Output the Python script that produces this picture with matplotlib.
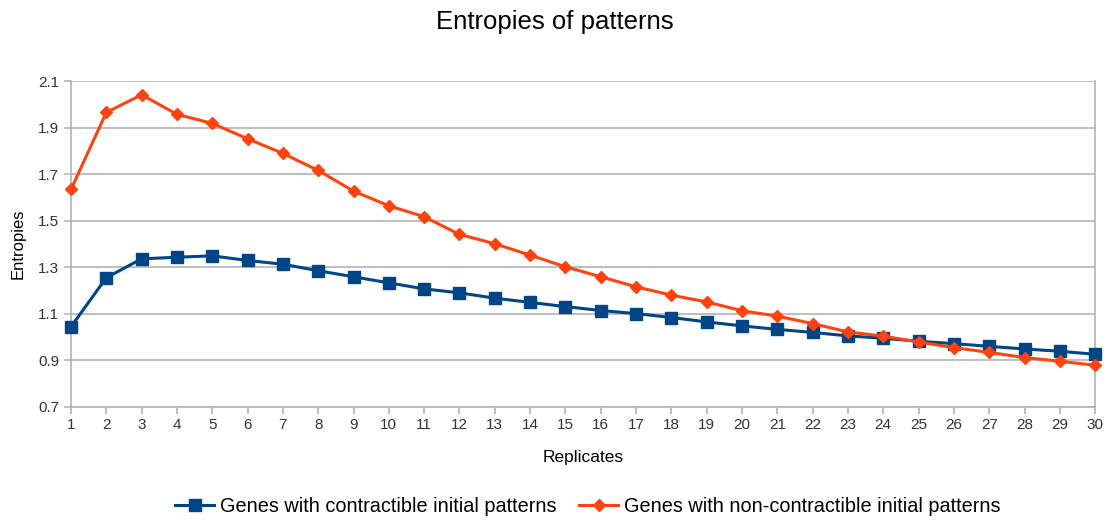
import numpy as np
import matplotlib
matplotlib.use("Agg")
import matplotlib.pyplot as plt

plt.rcParams['font.family'] = ['Liberation Sans', 'DejaVu Sans']

replicates = list(range(1, 31))
contractible = [1.044, 1.255, 1.336, 1.343, 1.349, 1.329, 1.313, 1.285, 1.259, 1.233,
                1.207, 1.190, 1.167, 1.149, 1.131, 1.114, 1.101, 1.084, 1.065, 1.048,
                1.033, 1.020, 1.005, 0.995, 0.982, 0.972, 0.960, 0.949, 0.939, 0.926]
non_contractible = [1.634, 1.965, 2.041, 1.957, 1.918, 1.852, 1.789, 1.716, 1.627, 1.564,
                    1.517, 1.441, 1.401, 1.352, 1.302, 1.259, 1.216, 1.180, 1.151, 1.113,
                    1.090, 1.058, 1.022, 1.004, 0.979, 0.955, 0.934, 0.912, 0.896, 0.879]
y_ticks = [0.7, 0.9, 1.1, 1.3, 1.5, 1.7, 1.9, 2.1]

fig = plt.figure(figsize=(11.09, 5.21), dpi=100)
ax = fig.add_axes([0.064, 0.219, 0.9235, 0.6255])

ax.plot(replicates, contractible, color='#004586', lw=2.2, marker='s', ms=8,
        label='Genes with contractible initial patterns', zorder=3, clip_on=False)
ax.plot(replicates, non_contractible, color='#ff420e', lw=2.2, marker='D', ms=6,
        label='Genes with non-contractible initial patterns', zorder=4, clip_on=False)

ax.set_xlim(1, 30)
ax.set_ylim(0.7, 2.1)
ax.set_xticks(replicates)
ax.set_yticks(y_ticks)
ax.set_yticklabels([f"{v:.1f}" for v in y_ticks])
ax.grid(axis='y', color='#b3b3b3', lw=1.2)
ax.set_axisbelow(True)
for side in ['left', 'right', 'bottom']:
    ax.spines[side].set_color('#b3b3b3')
    ax.spines[side].set_linewidth(1.2)
ax.spines['top'].set_visible(False)
ax.tick_params(colors='#b3b3b3', labelcolor='#333333', labelsize=11, length=5, width=1.2)
ax.tick_params(axis='x', pad=3)

ax.set_xlabel('Replicates', fontsize=12.5, labelpad=13)
ax.set_ylabel('Entropies', fontsize=12, labelpad=9)
fig.suptitle('Entropies of patterns', fontsize=18.5, y=0.98)

fig.legend(loc='center', bbox_to_anchor=(0.53, 0.027), ncol=2, frameon=False,
           fontsize=14.3, handlelength=2.0, handletextpad=0.3, columnspacing=1.1)

fig.savefig('out.png', dpi=100)
